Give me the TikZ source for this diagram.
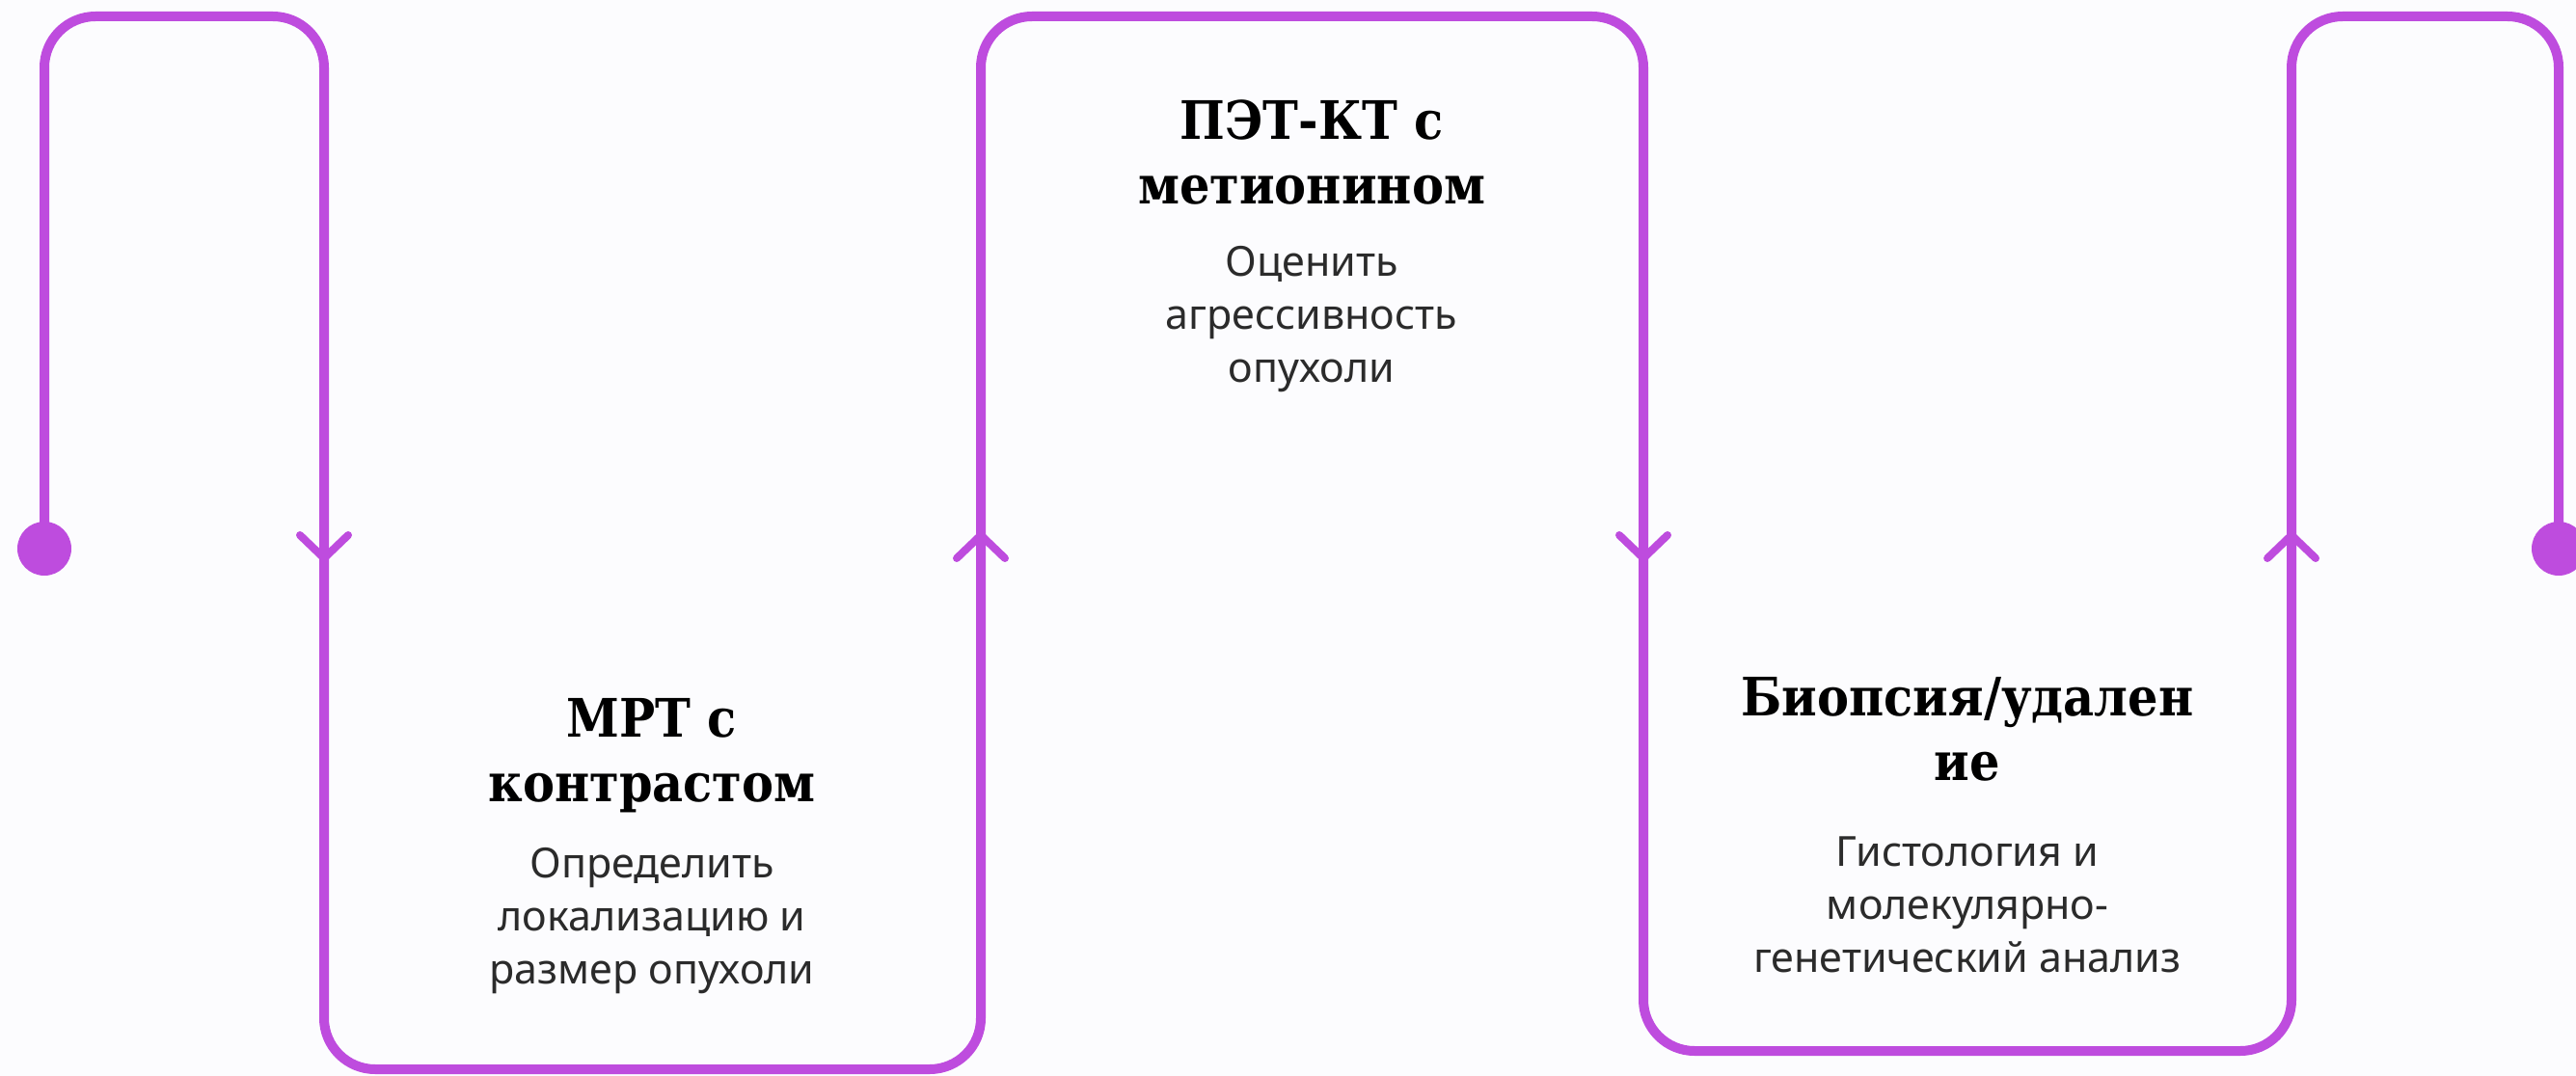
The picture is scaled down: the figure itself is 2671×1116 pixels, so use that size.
\documentclass[tikz,border=0pt]{standalone}
\usepackage{fontspec}
\setmainfont{Noto Sans}
\newfontfamily\headfont{DejaVu Serif Condensed}
\definecolor{flowpurple}{RGB}{190,76,222}
\definecolor{pagebg}{RGB}{252,252,254}
\definecolor{notegrey}{RGB}{43,43,43}
\tikzset{
  flow/.style={draw=flowpurple, line width=10pt, rounded corners=53pt},
  chevron/.style={draw=flowpurple, line width=8pt, line cap=round, line join=round},
  enddot/.style={circle, fill=flowpurple, minimum size=56pt, inner sep=0pt},
  steptitle/.style={align=center, font=\headfont\bfseries\fontsize{55}{67}\selectfont},
  stepnote/.style={align=center, text=notegrey, font=\fontsize{43}{55}\selectfont},
}
\begin{document}
\begin{tikzpicture}[x=1pt,y=-1pt]
        %% background of the whole page, this also fixes the size of the picture
        \fill[pagebg] (0,0) rectangle (2671,1116);
        \useasboundingbox (0,0) rectangle (2671,1116);
        %% the two end points of the line
        \coordinate (start) at (46,569);
        \coordinate (finish) at (2653,569);
        %% one long line that goes up and down round the three steps
        \draw[flow] (start) -- (46,17) -- (336,17) -- (336,1109) -- (1017,1109) -- (1017,17)
              -- (1704,17) -- (1704,1090) -- (2376,1090) -- (2376,17) -- (2653,17) -- (finish);
        \node[enddot] (startdot) at (start) {};
        \node[enddot] (finishdot) at (finish) {};
        %% open arrow heads, d=-1 points down and d=1 points up
        \foreach \x/\y/\d in {336/579/-1, 1704/579/-1, 1017/555/1, 2376/555/1}
          \draw[chevron] (\x-25,\y+24*\d) -- (\x,\y) -- (\x+25,\y+24*\d);
        %% step texts
        \node[steptitle] (mrt) at (676,784) {МРТ с\\контрастом};
        \node[stepnote] (mrtnote) at (676,955) {Определить\\локализацию и\\размер опухоли};
        \node[steptitle] (pet) at (1360,158) {ПЭТ-КТ с\\метионином};
        \node[stepnote] (petnote) at (1360,331) {Оценить\\агрессивность\\опухоли};
        \node[steptitle] (biopsy) at (2040,756) {Биопсия/удален\\ие};
        \node[stepnote] (biopsynote) at (2040,938) {Гистология и\\молекулярно-\\генетический анализ};
\end{tikzpicture}
\end{document}
